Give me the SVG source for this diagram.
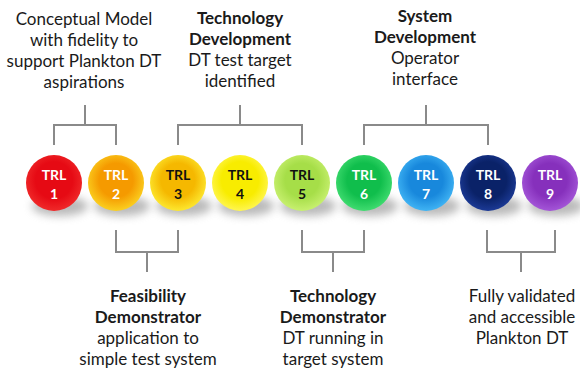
<svg xmlns="http://www.w3.org/2000/svg" width="580" height="370" viewBox="0 0 580 370">
  <style>
    .lbl { font-family: Lato, "Liberation Sans", sans-serif; font-size: 17px; fill: #1a1a1a; text-anchor: middle; }
    .b { font-weight: bold; }
    .trl { font-family: Lato, "Liberation Sans", sans-serif; font-size: 14px; font-weight: bold; text-anchor: middle; }
    .w { fill: #ffffff; }
    .k { fill: #111111; }
    .conn { stroke: #8a8a8a; stroke-width: 2; fill: none; }
  </style>
  <defs>
    <filter id="soft" x="-50%" y="-50%" width="200%" height="200%">
      <feGaussianBlur stdDeviation="4.5"/>
    </filter>
    <radialGradient id="g1" cx="50%" cy="45%" r="55%"><stop offset="0.6" stop-color="#e60a14"/><stop offset="1" stop-color="#f02a2a"/></radialGradient>
    <radialGradient id="g2" cx="50%" cy="45%" r="55%"><stop offset="0.55" stop-color="#f59a00"/><stop offset="1" stop-color="#fbd020"/></radialGradient>
    <radialGradient id="g3" cx="50%" cy="45%" r="55%"><stop offset="0.55" stop-color="#f5b800"/><stop offset="1" stop-color="#fde830"/></radialGradient>
    <radialGradient id="g4" cx="50%" cy="45%" r="55%"><stop offset="0.6" stop-color="#f8ec00"/><stop offset="1" stop-color="#fff650"/></radialGradient>
    <radialGradient id="g5" cx="50%" cy="45%" r="55%"><stop offset="0.55" stop-color="#a6de48"/><stop offset="1" stop-color="#c8f070"/></radialGradient>
    <radialGradient id="g6" cx="50%" cy="45%" r="55%"><stop offset="0.55" stop-color="#10be4c"/><stop offset="1" stop-color="#40dc70"/></radialGradient>
    <radialGradient id="g7" cx="50%" cy="45%" r="55%"><stop offset="0.55" stop-color="#1888dc"/><stop offset="1" stop-color="#40b4f4"/></radialGradient>
    <radialGradient id="g8" cx="50%" cy="45%" r="55%"><stop offset="0.6" stop-color="#0a2268"/><stop offset="1" stop-color="#1c3a96"/></radialGradient>
    <radialGradient id="g9" cx="50%" cy="45%" r="55%"><stop offset="0.55" stop-color="#8630bc"/><stop offset="1" stop-color="#a456d8"/></radialGradient>
  </defs>

  <rect width="580" height="370" fill="#ffffff"/>

  <!-- connectors: brackets joining labels to TRL levels -->
  <g id="connectors" class="conn">
    <path d="M85,105 V125 M54,145 V125 H116 V145"/>
    <path d="M240,105 V125 M178,145 V125 H302 V145"/>
    <path d="M426,105 V125 M364,145 V125 H488 V145"/>
    <path d="M116,230 V252 H178 V230 M147,252 V272"/>
    <path d="M302,230 V252 H364 V230 M333,252 V272"/>
    <path d="M487,230 V252 H555 V230 M521,252 V272"/>
  </g>

  <!-- ground shadows under the levels -->
  <g id="shadows" fill="#8c8c8c" opacity="0.6" filter="url(#soft)">
    <ellipse cx="60" cy="206" rx="28" ry="10"/>
    <ellipse cx="122" cy="206" rx="28" ry="10"/>
    <ellipse cx="184" cy="206" rx="28" ry="10"/>
    <ellipse cx="246" cy="206" rx="28" ry="10"/>
    <ellipse cx="308" cy="206" rx="28" ry="10"/>
    <ellipse cx="370" cy="206" rx="28" ry="10"/>
    <ellipse cx="432" cy="206" rx="28" ry="10"/>
    <ellipse cx="494" cy="206" rx="28" ry="10"/>
    <ellipse cx="556" cy="206" rx="28" ry="10"/>
  </g>

  <g id="trl1"><circle cx="54" cy="183" r="28" fill="url(#g1)"/><text class="trl w" x="54" y="180">TRL</text><text class="trl w" x="54" y="199">1</text></g>
  <g id="trl2"><circle cx="116" cy="183" r="28" fill="url(#g2)"/><text class="trl w" x="116" y="180">TRL</text><text class="trl w" x="116" y="199">2</text></g>
  <g id="trl3"><circle cx="178" cy="183" r="28" fill="url(#g3)"/><text class="trl k" x="178" y="180">TRL</text><text class="trl k" x="178" y="199">3</text></g>
  <g id="trl4"><circle cx="240" cy="183" r="28" fill="url(#g4)"/><text class="trl k" x="240" y="180">TRL</text><text class="trl k" x="240" y="199">4</text></g>
  <g id="trl5"><circle cx="302" cy="183" r="28" fill="url(#g5)"/><text class="trl k" x="302" y="180">TRL</text><text class="trl k" x="302" y="199">5</text></g>
  <g id="trl6"><circle cx="364" cy="183" r="28" fill="url(#g6)"/><text class="trl w" x="364" y="180">TRL</text><text class="trl w" x="364" y="199">6</text></g>
  <g id="trl7"><circle cx="426" cy="183" r="28" fill="url(#g7)"/><text class="trl w" x="426" y="180">TRL</text><text class="trl w" x="426" y="199">7</text></g>
  <g id="trl8"><circle cx="488" cy="183" r="28" fill="url(#g8)"/><text class="trl w" x="488" y="180">TRL</text><text class="trl w" x="488" y="199">8</text></g>
  <g id="trl9"><circle cx="550" cy="183" r="28" fill="url(#g9)"/><text class="trl w" x="550" y="180">TRL</text><text class="trl w" x="550" y="199">9</text></g>

  <g id="conceptual">
    <text class="lbl" x="84" y="25">Conceptual Model</text>
    <text class="lbl" x="84" y="46">with fidelity to</text>
    <text class="lbl" x="84" y="67">support Plankton DT</text>
    <text class="lbl" x="84" y="88">aspirations</text>
  </g>
  <g id="tech-dev">
    <text class="lbl b" x="240" y="24">Technology</text>
    <text class="lbl b" x="240" y="45">Development</text>
    <text class="lbl" x="240" y="66">DT test target</text>
    <text class="lbl" x="240" y="87">identified</text>
  </g>
  <g id="sys-dev">
    <text class="lbl b" x="425" y="22">System</text>
    <text class="lbl b" x="425" y="43">Development</text>
    <text class="lbl" x="425" y="64">Operator</text>
    <text class="lbl" x="425" y="85">interface</text>
  </g>
  <g id="feasibility">
    <text class="lbl b" x="148" y="302">Feasibility</text>
    <text class="lbl b" x="148" y="323">Demonstrator</text>
    <text class="lbl" x="148" y="344">application to</text>
    <text class="lbl" x="148" y="365">simple test system</text>
  </g>
  <g id="tech-demo">
    <text class="lbl b" x="333" y="302">Technology</text>
    <text class="lbl b" x="333" y="323">Demonstrator</text>
    <text class="lbl" x="333" y="344">DT running in</text>
    <text class="lbl" x="333" y="365">target system</text>
  </g>
  <g id="validated">
    <text class="lbl" x="522" y="302">Fully validated</text>
    <text class="lbl" x="522" y="323">and accessible</text>
    <text class="lbl" x="522" y="344">Plankton DT</text>
  </g>
</svg>
